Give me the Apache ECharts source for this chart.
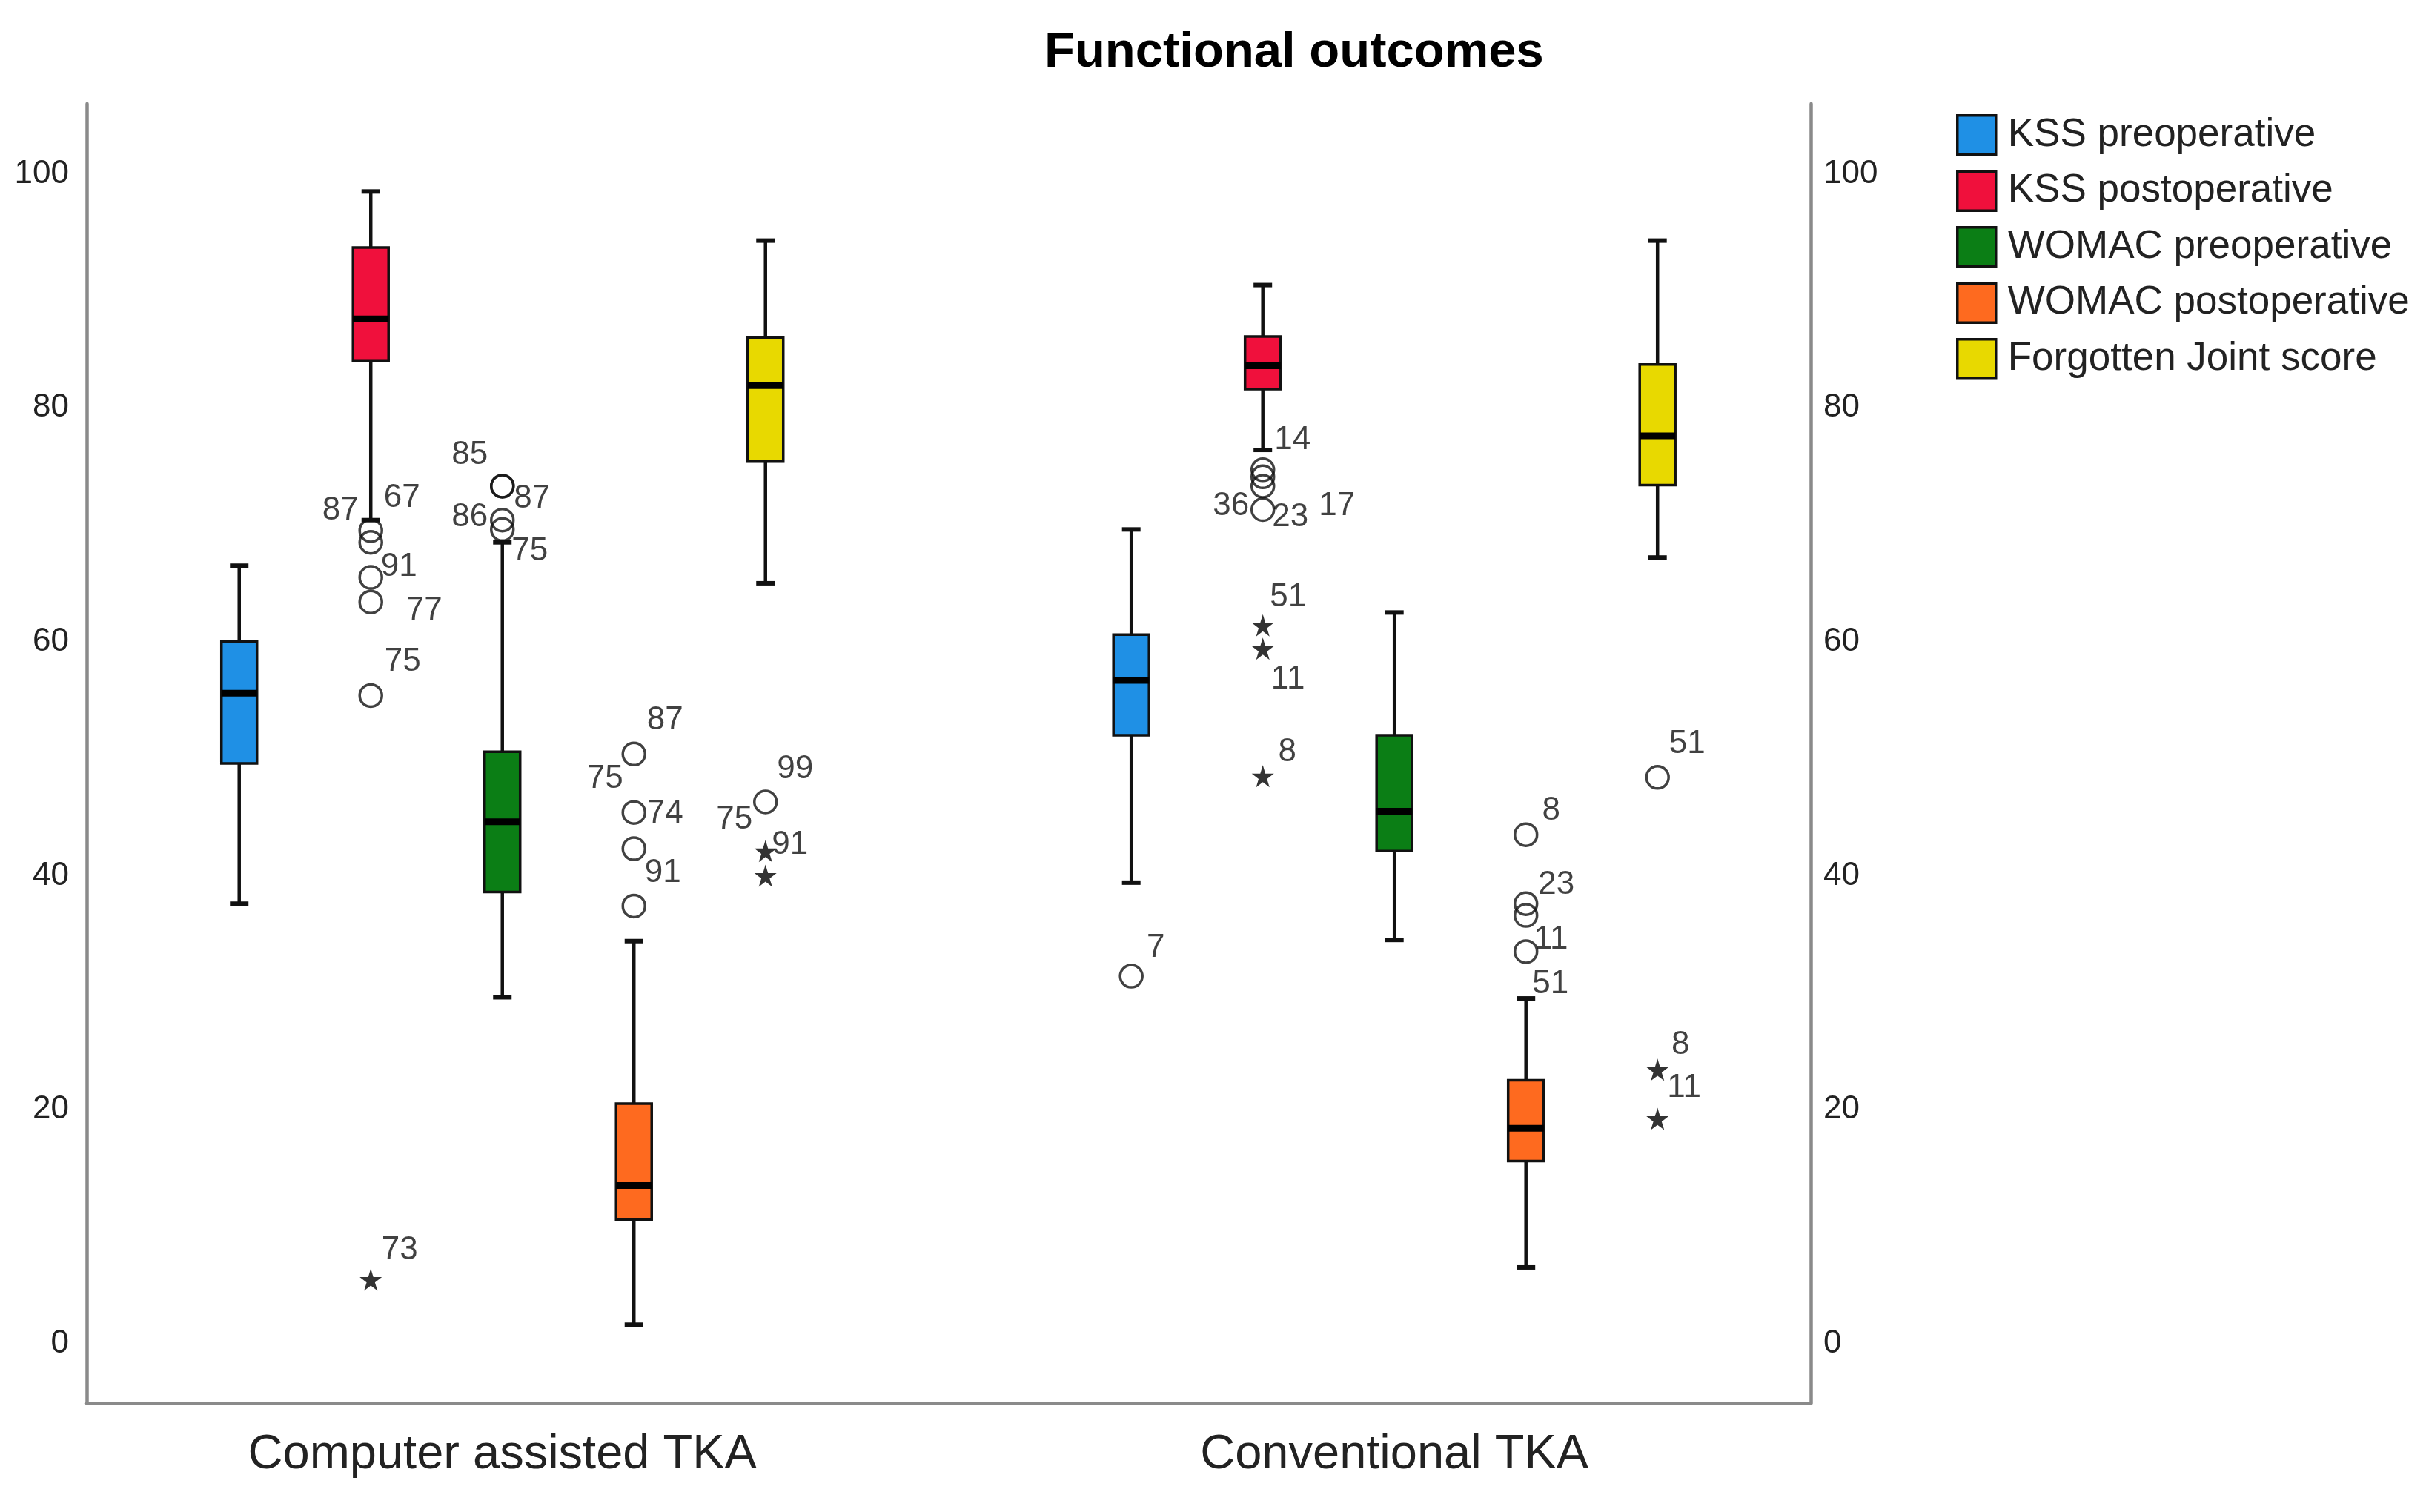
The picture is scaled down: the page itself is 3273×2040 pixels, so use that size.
<!DOCTYPE html>
<html><head><meta charset="utf-8">
<script src="https://cdn.jsdelivr.net/npm/echarts@6/dist/echarts.min.js"></script>
<style>html,body{margin:0;padding:0;background:#fff}#c{width:3273px;height:2040px}</style>
</head><body><div id="c"></div>
<script>
// ---------- data ----------
const groups = ['Computer assisted TKA', 'Conventional TKA'];
const measures = ['KSS preoperative', 'KSS postoperative', 'WOMAC preoperative', 'WOMAC postoperative', 'Forgotten Joint score'];
const yTicks = [0, 20, 40, 60, 80, 100];

// [lower whisker, Q1, median, Q3, upper whisker] per group
const kssPre    = [[37.6, 49.6, 55.6, 60.0, 66.5], [39.4, 52.0, 56.7, 60.6, 69.6]];
const kssPost   = [[70.4, 84.0, 87.6, 93.7, 98.5], [76.4, 81.6, 83.6, 86.1, 90.5]];
const womacPre  = [[29.6, 38.6, 44.6, 50.6, 68.5], [34.5, 42.1, 45.5, 52.0, 62.5]];
const womacPost = [[1.6, 10.6, 13.5, 20.5, 34.4], [6.5, 15.6, 18.4, 22.5, 29.5]];
const fjs       = [[65.0, 75.4, 81.9, 86.0, 94.3], [67.2, 73.4, 77.6, 83.7, 94.3]];

// outliers: [group, value, kind ('o' outlier, '*' extreme), case label]
const kssPreOut = [[1, 31.4, 'o', '7']];
const kssPostOut = [
  [0, 69.5, 'o', '67'], [0, 68.5, 'o', '87'], [0, 65.5, 'o', '91'], [0, 63.4, 'o', '77'], [0, 55.4, 'o', '75'], [0, 5.45, '*', '73'],
  [1, 74.7, 'o', '14'], [1, 74.1, 'o', '17'], [1, 73.3, 'o', '36'], [1, 71.3, 'o', '23'],
  [1, 61.4, '*', '51'], [1, 59.4, '*', '11'], [1, 48.5, '*', '8']
];
const womacPreOut = [[0, 73.3, 'o', '85'], [0, 73.3, 'o', '87'], [0, 70.4, 'o', '86'], [0, 69.6, 'o', '75']];
const womacPostOut = [
  [0, 50.4, 'o', '87'], [0, 45.4, 'o', '75'], [0, 42.3, 'o', '74'], [0, 37.4, 'o', '91'],
  [1, 43.5, 'o', '8'], [1, 37.6, 'o', '23'], [1, 36.6, 'o', '11'], [1, 33.5, 'o', '51']
];
const fjsOut = [
  [0, 46.3, 'o', '99'], [0, 42.1, '*', '75'], [0, 40.0, '*', '91'],
  [1, 48.4, 'o', '51'], [1, 23.4, '*', '8'], [1, 19.2, '*', '11']
];

// ---------- layout / style (not data) ----------
const labelOffsets = [
  [[33, -38]],
  [[42, -44], [-41, -43], [38, -14], [72, 12], [43, -46], [39, -40], [40, -40], [100, 40], [-43, 27], [37, 10], [34, -38], [34, 42], [33, -32]],
  [[-44, -42], [40, 17], [-44, -4], [37, 30]],
  [[42, -45], [-39, -45], [42, -47], [39, -45], [34, -32], [41, -25], [34, 33], [33, 44]],
  [[40, -44], [-42, -42], [33, -42], [40, -45], [31, -33], [36, -42]]
];
const colors = ['#1f90e5', '#f0103c', '#0b7e15', '#fe6a1f', '#e8d900'];
const groupCenters = [0, 6.78];
const FONT = '"Liberation Sans", Arial, sans-serif';
const STAR = 'path://M50,0 L61,35 L98,35 L68,57 L79,91 L50,70 L21,91 L32,57 L2,35 L39,35 Z';

const boxes = [kssPre, kssPost, womacPre, womacPost, fjs];
const outs = [kssPreOut, kssPostOut, womacPreOut, womacPostOut, fjsOut];
const xPos = (g, m) => groupCenters[g] + (m - 2);

function renderBox(params, api) {
  const x = api.value(0);
  const p = [1, 2, 3, 4, 5].map(i => api.coord([x, api.value(i)]));
  const cx = p[0][0];
  const hw = 24, cw = 12.5;
  const color = api.visual('color');
  const blk = '#111';
  return {
    type: 'group',
    children: [
      { type: 'line', shape: { x1: cx, y1: p[4][1], x2: cx, y2: p[3][1] }, style: { stroke: blk, lineWidth: 4.5 } },
      { type: 'line', shape: { x1: cx, y1: p[1][1], x2: cx, y2: p[0][1] }, style: { stroke: blk, lineWidth: 4.5 } },
      { type: 'line', shape: { x1: cx - cw, y1: p[4][1], x2: cx + cw, y2: p[4][1] }, style: { stroke: blk, lineWidth: 6 } },
      { type: 'line', shape: { x1: cx - cw, y1: p[0][1], x2: cx + cw, y2: p[0][1] }, style: { stroke: blk, lineWidth: 6 } },
      { type: 'rect', shape: { x: cx - hw, y: p[3][1], width: 2 * hw, height: p[1][1] - p[3][1] }, style: { fill: color, stroke: blk, lineWidth: 3.5 } },
      { type: 'line', shape: { x1: cx - hw, y1: p[2][1], x2: cx + hw, y2: p[2][1] }, style: { stroke: '#000', lineWidth: 9 } }
    ]
  };
}

const series = [];
measures.forEach((name, m) => {
  series.push({
    name, type: 'custom', renderItem: renderBox,
    itemStyle: { color: colors[m] },
    encode: { x: 0, y: [1, 2, 3, 4, 5] },
    data: boxes[m].map((b, g) => [xPos(g, m), ...b]),
    z: 3
  });
});
const circleData = [], starData = [];
outs.forEach((list, m) => {
  list.forEach((o, i) => {
    const item = {
      value: [xPos(o[0], m), o[1]],
      label: { show: true, formatter: o[3], position: 'inside', offset: labelOffsets[m][i] }
    };
    (o[2] === 'o' ? circleData : starData).push(item);
  });
});
const labelStyle = { color: '#111', fontSize: 44, fontFamily: FONT };
series.push({
  name: 'outliers', type: 'scatter', symbol: 'circle', symbolSize: 30,
  itemStyle: { color: 'rgba(0,0,0,0)', borderColor: '#111', borderWidth: 3.5 },
  label: labelStyle, data: circleData, z: 5, silent: true
});
series.push({
  name: 'extremes', type: 'scatter', symbol: STAR, symbolSize: 30,
  itemStyle: { color: '#000' },
  label: labelStyle, data: starData, z: 5, silent: true
});

const axisLineStyle = { show: true, onZero: false, lineStyle: { color: '#8a8a8a', width: 4.5 } };
const yAxisBase = {
  type: 'value', min: -5.1, max: 106,
  axisLine: axisLineStyle, axisTick: { show: false }, splitLine: { show: false },
  axisLabel: { customValues: yTicks, color: '#222', fontSize: 44, fontFamily: FONT, padding: [8, 0, 0, 0] }
};

const chart = echarts.init(document.getElementById('c'), null, { renderer: 'canvas' });
chart.setOption({
  backgroundColor: '#ffffff',
  animation: false,
  title: {
    text: 'Functional outcomes', left: 1409, top: 38, padding: 0,
    textStyle: { fontSize: 67, fontWeight: 'bold', color: '#000', fontFamily: FONT }
  },
  legend: {
    orient: 'vertical', left: 2639, top: 154, padding: 0,
    itemWidth: 52, itemHeight: 53, itemGap: 19, icon: 'rect', selectedMode: false,
    textStyle: { fontSize: 53, color: '#222', fontFamily: FONT, padding: [0, 0, 0, 11] },
    data: measures.map((n, i) => ({ name: n, itemStyle: { color: colors[i], borderColor: '#111', borderWidth: 3.5 } }))
  },
  grid: { left: 117, right: 830, top: 140, bottom: 147, containLabel: false },
  xAxis: {
    type: 'value', min: -3.159, max: 9.945,
    axisLine: axisLineStyle, axisTick: { show: false }, splitLine: { show: false },
    axisLabel: {
      customValues: groupCenters, margin: 38, color: '#222', fontSize: 65, fontFamily: FONT,
      formatter: v => groups[groupCenters.findIndex(c => Math.abs(c - v) < 1e-6)] || ''
    }
  },
  yAxis: [
    Object.assign({}, yAxisBase, { position: 'left', axisLabel: Object.assign({}, yAxisBase.axisLabel, { margin: 24 }) }),
    Object.assign({}, yAxisBase, { position: 'right', axisLabel: Object.assign({}, yAxisBase.axisLabel, { margin: 17 }) })
  ],
  series
});
</script></body></html>
